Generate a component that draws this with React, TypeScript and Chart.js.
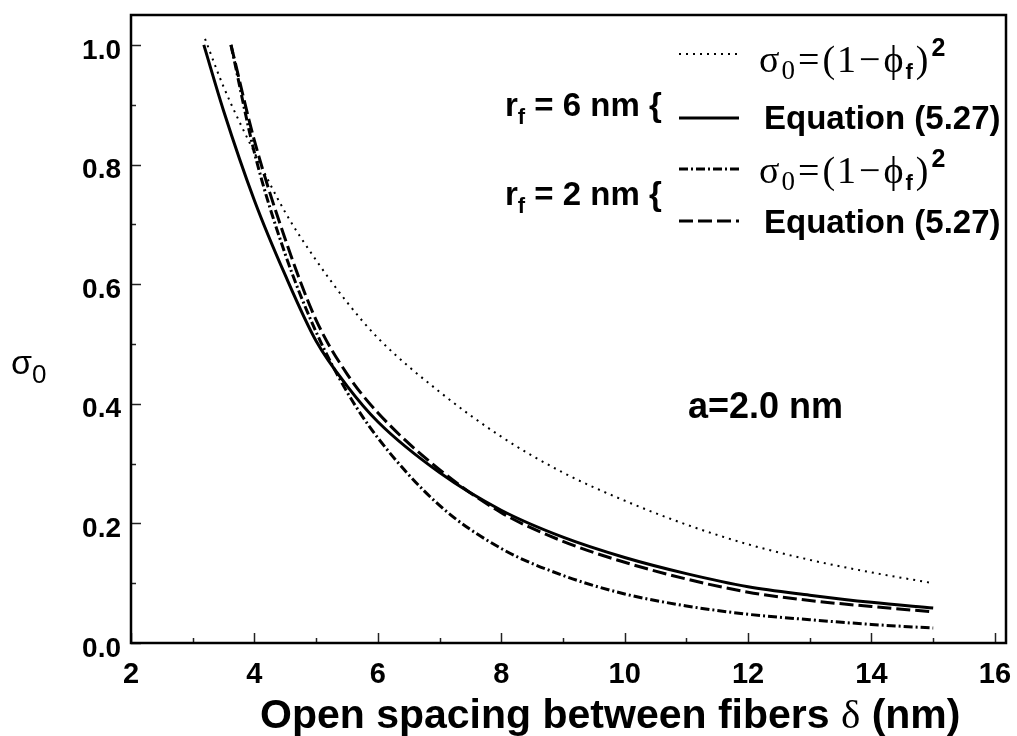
import React, { useEffect, useRef } from "react";
import { Chart, registerables } from "chart.js";
Chart.register(...registerables);

// ---------- data ----------
const xSimple6 = [3.2, 3.5, 4, 4.5, 5, 5.5, 6, 7, 8, 9, 10, 11, 12, 13, 14, 15];
const ySimple6 = [1.01, 0.93, 0.82, 0.72, 0.64, 0.57, 0.51, 0.42, 0.345, 0.285, 0.238, 0.198, 0.165, 0.139, 0.118, 0.1];

const xEq6 = [3.18, 3.5, 4, 4.5, 5, 5.5, 6, 7, 8, 9, 10, 11, 12, 13, 14, 15];
const yEq6 = [1.0, 0.89, 0.74, 0.615, 0.505, 0.43, 0.37, 0.285, 0.222, 0.177, 0.143, 0.116, 0.094, 0.08, 0.068, 0.0585];

const xSimple2 = [3.62, 4, 4.5, 5, 5.5, 6, 7, 8, 9, 10, 11, 12, 13, 14, 15];
const ySimple2 = [1.0, 0.82, 0.65, 0.52, 0.42, 0.343, 0.23, 0.158, 0.113, 0.082, 0.062, 0.048, 0.039, 0.031, 0.025];

const xEq2 = [3.62, 4, 4.5, 5, 5.5, 6, 7, 8, 9, 10, 11, 12, 13, 14, 15];
const yEq2 = [1.0, 0.84, 0.675, 0.54, 0.45, 0.385, 0.29, 0.218, 0.17, 0.135, 0.107, 0.085, 0.071, 0.061, 0.052];

const xLabels = [2, 4, 6, 8, 10, 12, 14, 16];
const yLabels = [0, 0.2, 0.4, 0.6, 0.8, 1.0];

const X_MIN = 2;
const X_MAX = 16.18;
const Y_MIN = 0;
const Y_MAX = 1.05;

const SANS = "'Liberation Sans', Arial, sans-serif";
const SERIF = "'Liberation Serif', 'Times New Roman', serif";

const DASH_DOT = [2, 5];
const DASH_DASHDOT = [9, 3, 2, 3];
const DASH_DASHED = [14, 5];

const pts = (xs: number[], ys: number[]) => xs.map((x, i) => ({ x, y: ys[i] }));

type Part = { text: string; font: string; dy?: number; gap?: number };
function drawRich(ctx: CanvasRenderingContext2D, x: number, y: number, parts: Part[]) {
  let cx = x;
  for (const p of parts) {
    ctx.font = p.font;
    ctx.fillText(p.text, cx, y + (p.dy || 0));
    cx += ctx.measureText(p.text).width + (p.gap || 0);
  }
  return cx;
}

const decorPlugin = {
  id: "decor",
  afterDatasetsDraw(chart: any) {
    const { ctx, chartArea: a, scales } = chart;
    const xs = scales.x;
    const ys = scales.y;
    ctx.save();
    // inward ticks
    ctx.strokeStyle = "#222";
    ctx.lineWidth = 1.5;
    for (const t of xs.ticks) {
      const px = Math.round(xs.getPixelForValue(t.value)) + 0.5;
      const major = xLabels.some((v) => Math.abs(v - t.value) < 1e-6);
      ctx.beginPath();
      ctx.moveTo(px, a.bottom);
      ctx.lineTo(px, a.bottom - (major ? 10 : 5));
      ctx.stroke();
    }
    for (const t of ys.ticks) {
      const py = Math.round(ys.getPixelForValue(t.value)) + 0.5;
      const major = yLabels.some((v) => Math.abs(v - t.value) < 1e-6);
      ctx.beginPath();
      ctx.moveTo(a.left, py);
      ctx.lineTo(a.left + (major ? 10 : 5), py);
      ctx.stroke();
    }
    // frame
    ctx.strokeStyle = "#000";
    ctx.lineWidth = 2.5;
    ctx.strokeRect(a.left, a.top, a.right - a.left, a.bottom - a.top);

    ctx.fillStyle = "#000";
    ctx.textBaseline = "alphabetic";
    ctx.textAlign = "left";

    // axis titles
    drawRich(ctx, 260, 728, [
      { text: "Open spacing between fibers ", font: `bold 41px ${SANS}` },
      { text: "δ", font: `41px ${SERIF}` },
      { text: " (nm)", font: `bold 41px ${SANS}` },
    ]);
    drawRich(ctx, 11, 374, [
      { text: "σ", font: `34px ${SANS}` },
      { text: "0", font: `26px ${SANS}`, dy: 9 },
    ]);

    // legend
    const sample = (y: number, dash: number[], w: number) => {
      ctx.beginPath();
      ctx.setLineDash(dash);
      ctx.lineWidth = w;
      ctx.moveTo(679, y);
      ctx.lineTo(739, y);
      ctx.stroke();
      ctx.setLineDash([]);
    };
    const sigmaText = (base: number) =>
      drawRich(ctx, 759, base, [
        { text: "σ", font: `38px ${SERIF}`, gap: 2 },
        { text: "0", font: `27px ${SERIF}`, dy: 7, gap: 3 },
        { text: "=", font: `38px ${SERIF}`, gap: 3 },
        { text: "(", font: `38px ${SERIF}`, gap: 2 },
        { text: "1", font: `38px ${SERIF}`, gap: 3 },
        { text: "−", font: `38px ${SERIF}`, gap: 3 },
        { text: "ϕ", font: `38px ${SERIF}`, gap: 2 },
        { text: "f", font: `bold 22px ${SANS}`, dy: 7, gap: 3 },
        { text: ")", font: `38px ${SERIF}`, gap: 3 },
        { text: "2", font: `bold 25px ${SANS}`, dy: -16 },
      ]);
    const rLabel = (base: number, n: string) =>
      drawRich(ctx, 505, base, [
        { text: "r", font: `bold 33px ${SANS}` },
        { text: "f", font: `bold 22px ${SANS}`, dy: 8 },
        { text: ` = ${n} nm {`, font: `bold 33px ${SANS}` },
      ]);

    sample(54, DASH_DOT, 2);
    sigmaText(72);
    sample(118, [], 3);
    ctx.font = `bold 33px ${SANS}`;
    ctx.fillText("Equation (5.27)", 764, 129);
    rLabel(116, "6");

    sample(169, DASH_DASHDOT, 3);
    sigmaText(183);
    sample(221, DASH_DASHED, 3);
    ctx.font = `bold 33px ${SANS}`;
    ctx.fillText("Equation (5.27)", 764, 233);
    rLabel(205, "2");

    ctx.font = `bold 36px ${SANS}`;
    ctx.fillText("a=2.0 nm", 688, 418);
    ctx.restore();
  },
};

const zeroPad = (s: any) => {
  s.paddingTop = 0;
  s.paddingBottom = 0;
  s.paddingLeft = 0;
  s.paddingRight = 0;
};

export default function App() {
  const ref = useRef<HTMLCanvasElement | null>(null);
  useEffect(() => {
    if (!ref.current) return;
    const common = {
      borderColor: "#000",
      pointRadius: 0,
      fill: false,
      cubicInterpolationMode: "monotone" as const,
    };
    const chart = new Chart(ref.current, {
      type: "line",
      data: {
        datasets: [
          { ...common, label: "rf=6 simple", data: pts(xSimple6, ySimple6), borderWidth: 2, borderDash: DASH_DOT },
          { ...common, label: "rf=6 Eq 5.27", data: pts(xEq6, yEq6), borderWidth: 3 },
          { ...common, label: "rf=2 simple", data: pts(xSimple2, ySimple2), borderWidth: 3, borderDash: DASH_DASHDOT },
          { ...common, label: "rf=2 Eq 5.27", data: pts(xEq2, yEq2), borderWidth: 3, borderDash: DASH_DASHED },
        ],
      },
      options: {
        responsive: false,
        animation: false,
        layout: { padding: { left: 0, top: 15, right: 11, bottom: 0 } },
        plugins: { legend: { display: false }, tooltip: { enabled: false } },
        scales: {
          x: {
            type: "linear",
            min: X_MIN,
            max: X_MAX,
            grid: { display: false, drawTicks: false },
            border: { display: false },
            afterFit: (s: any) => {
              s.height = 93;
              zeroPad(s);
            },
            ticks: {
              stepSize: 1,
              includeBounds: false,
              autoSkip: false,
              maxRotation: 0,
              padding: 15,
              color: "#000",
              font: { family: SANS, size: 29, weight: "bold" },
              callback: (v: any) => (xLabels.some((l) => Math.abs(l - v) < 1e-6) ? String(v) : ""),
            },
          },
          y: {
            type: "linear",
            min: Y_MIN,
            max: Y_MAX,
            grid: { display: false, drawTicks: false },
            border: { display: false },
            afterFit: (s: any) => {
              s.width = 131;
              zeroPad(s);
            },
            ticks: {
              stepSize: 0.1,
              includeBounds: false,
              autoSkip: false,
              padding: 10,
              labelOffset: 6,
              color: "#000",
              font: { family: SANS, size: 28, weight: "bold" },
              callback: (v: any) => (yLabels.some((l) => Math.abs(l - v) < 1e-6) ? Number(v).toFixed(1) : ""),
            },
          },
        },
      },
      plugins: [decorPlugin],
    });
    return () => chart.destroy();
  }, []);
  return (
    <div style={{ position: "absolute", left: 0, top: 0, width: 1017, height: 736, background: "#fff" }}>
      <canvas ref={ref} width={1017} height={736} style={{ display: "block" }} />
    </div>
  );
}
